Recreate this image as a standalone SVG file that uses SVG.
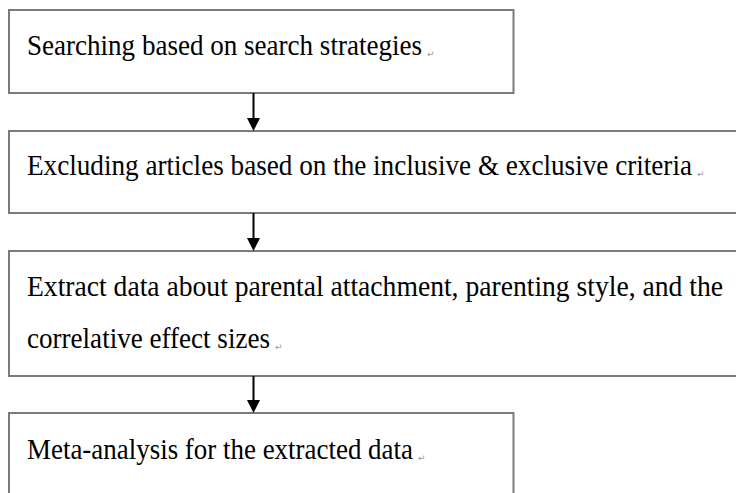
<svg xmlns="http://www.w3.org/2000/svg" width="736" height="493" viewBox="0 0 736 493">
<style>
.box{fill:#fff;stroke:#7a7a7a;stroke-width:2}
.t{font-family:"Liberation Serif","Times New Roman",serif;font-size:29px;fill:#000}
.pm{font-family:"DejaVu Sans",sans-serif;font-size:9px;fill:#9a9a9a}
.conn line{stroke:#000;stroke-width:2}
.conn polygon{fill:#000}
</style>
<rect width="736" height="493" fill="#fff"/>
<g id="node1">
<rect class="box" x="9" y="10" width="504.5" height="83"/>
<text class="t" x="27" y="55" textLength="395" lengthAdjust="spacingAndGlyphs">Searching based on search strategies</text>
<text class="pm" x="427" y="57">↵</text>
</g>
<g id="node2">
<rect class="box" x="9" y="131" width="740" height="82"/>
<text class="t" x="27" y="175" textLength="665" lengthAdjust="spacingAndGlyphs">Excluding articles based on the inclusive &amp; exclusive criteria</text>
<text class="pm" x="697" y="177">↵</text>
</g>
<g id="node3">
<rect class="box" x="9" y="251" width="740" height="125"/>
<text class="t" x="27" y="296" textLength="696" lengthAdjust="spacingAndGlyphs">Extract data about parental attachment, parenting style, and the</text>
<text class="t" x="27" y="348" textLength="243" lengthAdjust="spacingAndGlyphs">correlative effect sizes</text>
<text class="pm" x="275" y="350">↵</text>
</g>
<g id="node4">
<rect class="box" x="9" y="413" width="504.5" height="100"/>
<text class="t" x="27" y="459" textLength="386" lengthAdjust="spacingAndGlyphs">Meta-analysis for the extracted data</text>
<text class="pm" x="418" y="461">↵</text>
</g>
<g class="conn" id="connectors">
<line x1="253.5" y1="93" x2="253.5" y2="120"/>
<polygon points="247,118 260,118 253.5,131"/>
<line x1="253.5" y1="213" x2="253.5" y2="240"/>
<polygon points="247,238 260,238 253.5,251"/>
<line x1="253.5" y1="376" x2="253.5" y2="402"/>
<polygon points="247,400 260,400 253.5,413"/>
</g>
</svg>
